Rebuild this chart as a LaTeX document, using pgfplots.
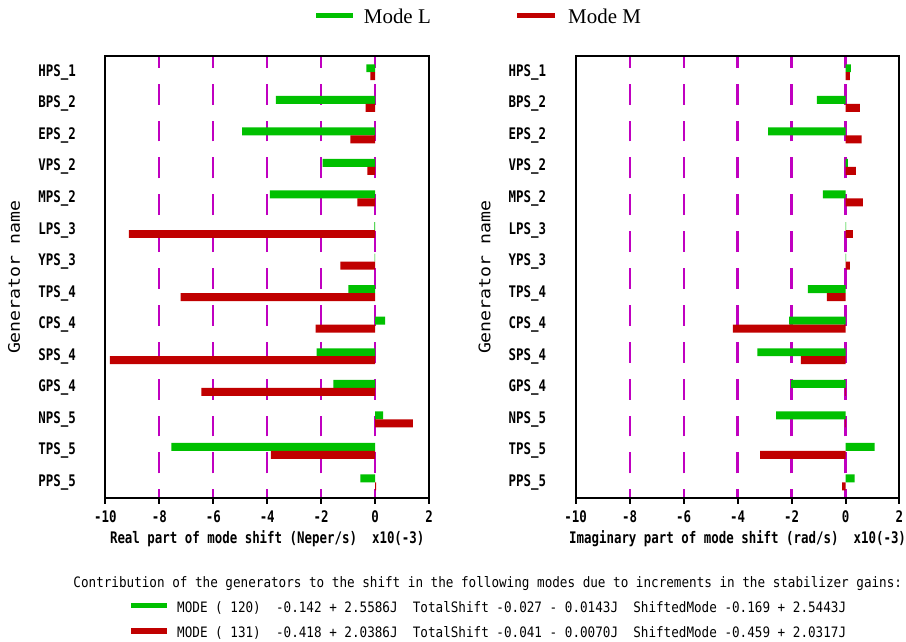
\documentclass[border=0pt]{standalone}
\usepackage{fontspec}
\setmainfont{Liberation Serif}
\newfontfamily\pix[FakeStretch=0.78]{DejaVu Sans Mono}
\newfontfamily\pixb[FakeStretch=0.88]{DejaVu Sans Mono}
\newfontfamily\pixw[FakeStretch=1.14]{DejaVu Sans Mono}
\usepackage{pgfplots}
\pgfplotsset{compat=1.18}
\definecolor{mgreen}{RGB}{0,192,0}
\definecolor{mred}{RGB}{192,0,0}
\definecolor{mgrid}{RGB}{192,0,192}

\pgfplotstableread{
y realL realM imagL imagM
13 -0.33 -0.18 0.20 0.16
12 -3.68 -0.35 -1.06 0.53
11 -4.93 -0.92 -2.87 0.60
10 -1.95 -0.29 0.09 0.38
9 -3.90 -0.66 -0.84 0.64
8 -0.03 -9.13 0.02 0.27
7 -0.02 -1.29 0.02 0.16
6 -0.99 -7.21 -1.39 -0.69
5 0.37 -2.21 -2.09 -4.17
4 -2.17 -9.83 -3.27 -1.65
3 -1.55 -6.44 -2.02 -0.02
2 0.29 1.40 -2.57 -0.02
1 -7.55 -3.87 1.08 -3.16
0 -0.55 0.03 0.34 -0.13
}\data

\pgfplotsset{
  panel/.style={
    scale only axis, width=243.75pt, height=332.5pt,
    xmin=-10, xmax=2, ymin=-0.5, ymax=13.5,
    xbar, bar width=6pt,
    xtick={-10,-8,-6,-4,-2,0,2},
    xticklabels={-10,-8,-6,-4,-2,0,2},
    minor xtick={-8,-6,-4,-2,0},
    ytick={0,...,13},
    yticklabels={PPS\_5,TPS\_5,NPS\_5,GPS\_4,SPS\_4,CPS\_4,TPS\_4,YPS\_3,LPS\_3,MPS\_2,VPS\_2,EPS\_2,BPS\_2,HPS\_1},
    xtick pos=left, ytick style={draw=none},
    tick align=outside, major tick length=4pt, minor tick length=0pt,
    x tick style={line width=1.5pt, black},
    axis line style={line width=1.5pt, black},
    xminorgrids=true,
    minor x grid style={draw=mgrid, line width=1.6pt, dash pattern=on 15.75pt off 12pt, dash phase=9pt},
    xticklabel style={font=\pix\bfseries\fontsize{12}{14}\selectfont, inner sep=0pt, anchor=north, yshift=-5.5pt},
    yticklabel style={font=\pix\bfseries\fontsize{12}{14}\selectfont, inner sep=0pt, anchor=east, xshift=-18pt},
    xlabel style={font=\pix\bfseries\fontsize{12}{14}\selectfont, inner sep=0pt, at={(axis description cs:0.5,-0.0722)}, anchor=north},
    ylabel style={font=\pixw\fontsize{12}{14}\selectfont, inner sep=0pt, at={(axis description cs:-0.2815,0.5)}, anchor=center},
    ylabel={Generator name},
  },
}

\begin{document}
\begin{tikzpicture}
\path (0pt,0pt) rectangle (679.5pt,-483pt);

\begin{axis}[panel, at={(79.275pt,-375pt)}, anchor=south west,
  xlabel={Real part of mode shift (Neper/s)~~x10(-3)}]
  \addplot[fill=mgreen, draw=none, bar shift=3pt] table[x=realL, y=y] {\data};
  \addplot[fill=mred, draw=none, bar shift=-3pt] table[x=realM, y=y] {\data};
\end{axis}

\begin{axis}[panel, at={(433.275pt,-375pt)}, anchor=south west,
  xlabel={Imaginary part of mode shift (rad/s)~~x10(-3)}]
  \addplot[fill=mgreen, draw=none, bar shift=3pt] table[x=imagL, y=y] {\data};
  \addplot[fill=mred, draw=none, bar shift=-3pt] table[x=imagM, y=y] {\data};
\end{axis}

% top legend
\fill[mgreen] (237.75pt,-9.975pt) rectangle (265.5pt,-13.725pt);
\node[anchor=base west, inner sep=0pt, font=\fontsize{15.75}{18}\selectfont] at (273.75pt,-17.5pt) {Mode L};
\fill[mred] (389.25pt,-9.975pt) rectangle (417.75pt,-13.725pt);
\node[anchor=base west, inner sep=0pt, font=\fontsize{15.75}{18}\selectfont] at (427.5pt,-17.5pt) {Mode M};

% bottom text
\node[anchor=base west, inner sep=0pt, font=\pixb\fontsize{10.8}{13}\selectfont] at (55.1pt,-442.5pt)
  {Contribution of the generators to the shift in the following modes due to increments in the stabilizer gains:};
\fill[mgreen] (98.85pt,-453.75pt) rectangle (125.9pt,-457.5pt);
\node[anchor=base west, inner sep=0pt, font=\pixb\fontsize{10.8}{13}\selectfont] at (133.2pt,-461.25pt)
  {MODE ( 120)~~-0.142 + 2.5586J~~TotalShift -0.027 - 0.0143J~~ShiftedMode -0.169 + 2.5443J};
\fill[mred] (98.85pt,-473pt) rectangle (125.9pt,-477pt);
\node[anchor=base west, inner sep=0pt, font=\pixb\fontsize{10.8}{13}\selectfont] at (133.2pt,-480pt)
  {MODE ( 131)~~-0.418 + 2.0386J~~TotalShift -0.041 - 0.0070J~~ShiftedMode -0.459 + 2.0317J};
\end{tikzpicture}
\end{document}
